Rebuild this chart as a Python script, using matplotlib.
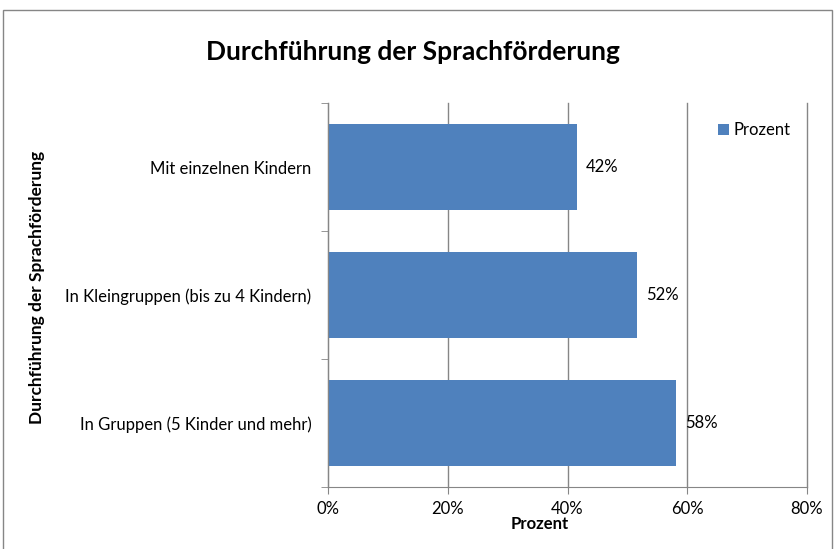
#!/usr/bin/env python3
"""Durchführung der Sprachförderung - horizontal bar chart."""
import matplotlib
matplotlib.use('Agg')
import matplotlib.pyplot as plt
from matplotlib.patches import Rectangle
from matplotlib.ticker import FuncFormatter

plt.rcParams.update({'font.family': ['Lato', 'DejaVu Sans'], 'font.size': 12})

categories = ['In Gruppen (5 Kinder und mehr)',
              'In Kleingruppen (bis zu 4 Kindern)',
              'Mit einzelnen Kindern']
values = [58.1, 51.6, 41.6]
xticks = [0, 20, 40, 60, 80]

BLUE = '#4F81BD'
GREY = '#868686'

fig = plt.figure(figsize=(8.35, 5.49), dpi=100)
ax = fig.add_axes([328/835, 1 - 487/549, 479/835, 384/549])

y = range(len(categories))
ax.barh(y, values, height=0.665, color=BLUE, label='Prozent', zorder=2)

for yi, v in zip(y, values):
    ax.text(v + 1.5, yi, f'{v:.0f}%', va='center', ha='left', fontsize=12)

ax.set_xlim(0, 80)
ax.set_ylim(-0.5, len(categories) - 0.5)
ax.set_xticks(xticks)
ax.xaxis.set_major_formatter(FuncFormatter(lambda v, p: f'{v:.0f}%'))
ax.set_yticks(list(y))
ax.set_yticklabels(categories)
ax.tick_params(axis='y', length=0, pad=12)
ax.set_yticks([-0.5, 0.5, 1.5, 2.5], minor=True)
ax.tick_params(axis='y', which='minor', length=5, color=GREY, direction='out')
ax.tick_params(axis='x', length=5, color=GREY, direction='out', pad=5)

ax.grid(axis='x', color=GREY, linewidth=1, zorder=0)
ax.set_axisbelow(True)
for gl in ax.get_xgridlines():
    gl.set_clip_on(False)
for side in ['top', 'right']:
    ax.spines[side].set_visible(False)
for side in ['left', 'bottom']:
    ax.spines[side].set_color(GREY)

leg = ax.legend(loc='upper right', bbox_to_anchor=(0.99, 0.98), frameon=True,
                fontsize=12, handlelength=0.65, handleheight=0.65, handletextpad=0.3,
                borderpad=0.2, fancybox=False)
leg.get_frame().set_edgecolor('white')
leg.get_frame().set_facecolor('white')
leg.get_frame().set_alpha(1)

fig.text(413/835, 1 - 52/549, 'Durchführung der Sprachförderung', ha='center', va='center',
         fontsize=19, fontweight='bold')
fig.text(540/835, 1 - 524/549, 'Prozent', ha='center', va='center',
         fontsize=12, fontweight='bold')
fig.text(37/835, 1 - 287/549, 'Durchführung der Sprachförderung', ha='center', va='center',
         rotation=90, fontsize=12.5, fontweight='bold')

# outer chart border
fig.patches.append(Rectangle((3/835, -0.01), 829/835, 1 - 10/549 + 0.01,
                             transform=fig.transFigure, fill=False,
                             edgecolor=GREY, linewidth=1))

fig.savefig('out.png', dpi=100)
